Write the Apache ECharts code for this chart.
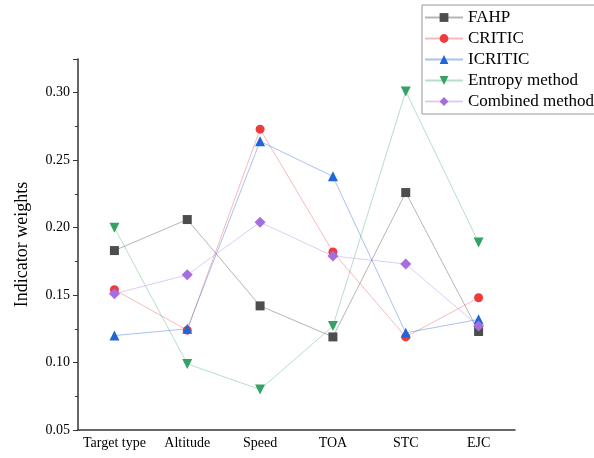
<!DOCTYPE html>
<html>
<head>
<meta charset="utf-8">
<script src="https://cdn.jsdelivr.net/npm/echarts@6/dist/echarts.min.js"></script>
<style>
  html, body { margin: 0; padding: 0; background: #fff; }
  #chart { width: 594px; height: 458px; }
</style>
</head>
<body>
<div id="chart"></div>
<script>
const categories = ['Target type', 'Altitude', 'Speed', 'TOA', 'STC', 'EJC'];
const fahp = [0.183, 0.206, 0.142, 0.119, 0.226, 0.123];
const critic = [0.154, 0.124, 0.273, 0.182, 0.119, 0.148];
const icritic = [0.120, 0.125, 0.264, 0.238, 0.122, 0.132];
const entropy = [0.200, 0.099, 0.080, 0.127, 0.301, 0.189];
const combined = [0.151, 0.165, 0.204, 0.179, 0.173, 0.127];

const font = 'Liberation Serif';

// one line series; markers full colour, connecting line faint
function makeSeries(name, data, color, lineColor, symbol, size) {
  return {
    name,
    type: 'line',
    data,
    symbol,
    symbolSize: size,
    itemStyle: { color },
    lineStyle: { color: lineColor, width: 1 },
    emphasis: { disabled: true },
    z: 3
  };
}

const chart = echarts.init(document.getElementById('chart'));
chart.setOption({
  animation: false,
  textStyle: { fontFamily: font },
  grid: { left: 78, right: 79, top: 59, bottom: 28 },
  legend: {
    orient: 'vertical',
    left: 422,
    top: 5,
    padding: [4, 10, 4, 2],
    itemWidth: 38,
    itemHeight: 11,
    itemGap: 4,
    borderColor: '#999',
    borderWidth: 1,
    textStyle: { fontFamily: font, fontSize: 17, color: '#000' },
    data: ['FAHP', 'CRITIC', 'ICRITIC', 'Entropy method', 'Combined method']
  },
  xAxis: {
    type: 'category',
    data: categories,
    axisLine: { lineStyle: { color: '#333', width: 1.5 } },
    axisTick: { alignWithLabel: true, length: 5, lineStyle: { color: '#333' } },
    axisLabel: { interval: 0, fontFamily: font, fontSize: 14, color: '#000', margin: 6 }
  },
  yAxis: {
    type: 'value',
    min: 0.05,
    max: 0.325,
    interval: 0.05,
    name: 'Indicator weights',
    nameLocation: 'middle',
    nameGap: 47,
    nameTextStyle: { fontFamily: font, fontSize: 18, color: '#000' },
    splitLine: { show: false },
    axisLine: { show: true, lineStyle: { color: '#333', width: 1.5 } },
    axisTick: { show: true, length: 5, lineStyle: { color: '#333' } },
    minorTick: { show: true, splitNumber: 2, length: 3, lineStyle: { color: '#333' } },
    axisLabel: {
      fontFamily: font, fontSize: 14, color: '#000', margin: 8,
      showMaxLabel: false,
      formatter: v => v.toFixed(2)
    }
  },
  series: [
    makeSeries('FAHP', fahp, '#4d4d4d', 'rgba(90,90,90,0.45)', 'rect', 9),
    makeSeries('CRITIC', critic, '#ee3b3b', 'rgba(240,80,80,0.4)', 'circle', 9),
    makeSeries('ICRITIC', icritic, '#1f66d9', 'rgba(40,100,220,0.4)', 'triangle', 10),
    makeSeries('Entropy method', entropy, '#33a263', 'rgba(50,160,100,0.35)', 'path://M0,0 L10,0 L5,9 Z', 10),
    makeSeries('Combined method', combined, '#a66ddd', 'rgba(160,110,220,0.35)', 'diamond', 11)
  ]
});
</script>
</body>
</html>
